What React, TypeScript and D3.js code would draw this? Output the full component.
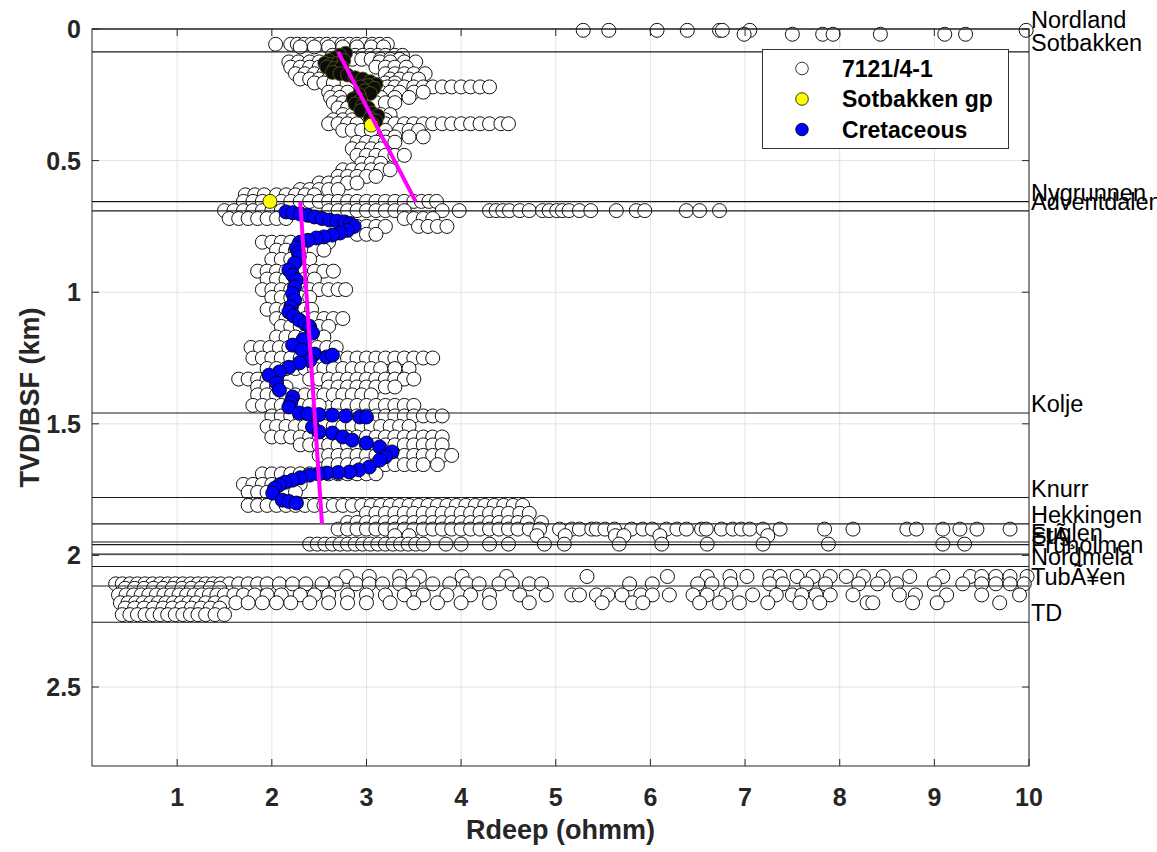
import React from 'react';
import * as d3 from 'd3';

const W = 1157;
const H = 852;
const PLOT = { left: 92, right: 1029, top: 29, bottom: 766 };
const FONT = 'Liberation Sans, Arial, Helvetica, sans-serif';

const xDomain = [0.1, 10];
const yDomain = [0, 2.8];
const xTicks = [1, 2, 3, 4, 5, 6, 7, 8, 9, 10];
const yTicks = [0, 0.5, 1, 1.5, 2, 2.5];
const yTickLabels = ['0', '0.5', '1', '1.5', '2', '2.5'];

const formationNames = ['Nordland', 'Sotbakken', 'Nygrunnen', 'Adventdalen', 'Kolje', 'Knurr', 'Hekkingen', 'Fuglen', 'StÃ¸', 'Fruholmen', 'Nordmela', 'TubÃ¥en', 'TD'];
const formationDepths = [0, 0.087, 0.656, 0.691, 1.459, 1.78, 1.88, 1.949, 1.959, 1.995, 2.042, 2.116, 2.254];

const trendTopDepth = [0.087, 0.656];
const trendBaseDepth = [0.656, 1.88];
const trendTopR = [2.7, 2.3];
const trendBaseR = [3.52, 2.53];

const legendLabels = ['7121/4-1', 'Sotbakken gp', 'Cretaceous'];

// well 7121/4-1: rows of [depth km, Rdeep values...]
const wellUpper: number[][] = [
  [0.005, 5.29, 5.56, 6.07, 6.39, 6.73, 6.76, 7.05, 9.97],
  [0.02, 6.99, 7.5, 7.82, 7.93, 8.43, 9.11, 9.33],
  [0.058, 2.04, 2.2, 2.27, 2.34, 2.42, 2.5, 2.58, 2.66, 2.74, 2.82, 2.9, 2.98, 3.06, 3.14, 3.22],
  [0.068, 2.3, 2.45, 2.6, 2.75, 2.9, 3.05, 3.18],
  [0.1, 2.64, 2.72, 2.8, 2.88, 2.96, 3.04, 3.12, 3.2, 3.3, 3.38],
  [0.115, 2.85, 2.95, 3.05, 3.15, 3.25, 3.35],
  [0.125, 2.18, 2.28, 2.4, 2.5, 3.14, 3.25, 3.4, 3.52],
  [0.145, 2.2, 2.3, 2.4, 2.5, 3.1, 3.2, 3.3, 3.42],
  [0.17, 2.25, 2.35, 2.45, 2.55, 3.2, 3.3, 3.4, 3.5, 3.62],
  [0.19, 2.3, 2.4, 2.5, 2.6, 3.25, 3.35, 3.45, 3.55],
  [0.205, 2.45, 2.55, 2.65, 3.2, 3.3],
  [0.22, 3.14, 3.22, 3.3, 3.4, 3.5, 3.6, 3.7, 3.8, 3.9, 4.0, 4.1, 4.2, 4.3],
  [0.24, 2.6, 2.7, 2.8, 3.15, 3.25, 3.35, 3.5, 3.6],
  [0.26, 2.62, 2.72, 3.15, 3.3, 3.45],
  [0.28, 2.65, 2.75, 2.85, 3.1, 3.2, 3.3],
  [0.3, 2.7, 2.8, 2.9, 3.0],
  [0.325, 2.75, 2.85, 3.15, 3.25],
  [0.345, 2.65, 2.75, 2.85, 3.2],
  [0.36, 2.6, 2.7, 2.8, 2.9, 3.1, 3.2, 3.3, 3.4, 3.5, 3.6, 3.7, 3.8, 3.9, 4.0, 4.1, 4.2, 4.3, 4.42, 4.5],
  [0.385, 2.75, 2.85, 2.95, 3.05, 3.2, 3.35, 3.45, 3.55],
  [0.41, 3.2, 3.3, 3.45, 3.6],
  [0.43, 2.9, 3.0, 3.1, 3.2, 3.3],
  [0.455, 2.85, 2.95, 3.05, 3.15],
  [0.48, 2.9, 3.0, 3.1, 3.2, 3.3, 3.4],
  [0.51, 2.95, 3.05, 3.15],
  [0.535, 2.75, 2.85, 2.95, 3.05, 3.15, 3.25],
  [0.56, 2.7, 2.8, 2.9, 3.0, 3.1],
  [0.585, 2.5, 2.6, 2.7, 2.8, 2.9],
  [0.61, 2.3, 2.4, 2.5, 2.6, 2.7],
  [0.63, 1.72, 1.82, 1.92, 2.05, 2.15, 2.25, 2.35, 2.45],
  [0.655, 1.7, 1.8, 1.9, 2.1, 2.2, 2.3, 2.4, 2.5, 2.6, 2.7, 2.8, 2.9, 3.0, 3.1, 3.2, 3.3, 3.4, 3.5, 3.58, 3.66, 3.74],
];

const wellMiddle: number[][] = [
  [0.69, 1.5, 1.6, 1.7, 1.8, 1.9, 2.0, 2.1, 2.6, 2.7, 2.8, 2.9, 3.0, 3.1, 3.2, 3.3, 3.4, 3.8, 3.98, 4.3, 4.37, 4.44, 4.51, 4.62, 4.72, 4.86, 4.93, 5.01, 5.07, 5.14, 5.25, 5.37, 5.64, 5.85, 5.94, 6.38, 6.52, 6.73],
  [0.72, 1.55, 1.65, 1.75, 1.85, 1.95, 2.05, 2.15, 3.4, 3.5, 3.6, 3.7],
  [0.75, 2.8, 2.9, 3.0, 3.1, 3.2, 3.55, 3.65, 3.75, 3.85],
  [0.78, 2.9, 3.0, 3.1],
  [0.81, 1.9, 2.0, 2.1, 2.2, 2.3, 2.4, 2.5, 2.6],
  [0.84, 2.05, 2.15, 2.25, 2.35, 2.45, 2.55],
  [0.875, 2.0, 2.1, 2.2, 2.3, 2.4],
  [0.92, 1.85, 1.95, 2.05, 2.15, 2.25, 2.35, 2.45, 2.55, 2.65],
  [0.95, 1.95, 2.05, 2.15, 2.25, 2.35, 2.45],
  [0.99, 1.9, 2.0, 2.1, 2.2, 2.3, 2.4, 2.5, 2.6, 2.7, 2.78],
  [1.02, 2.0, 2.1, 2.2, 2.3, 2.4],
  [1.065, 1.95, 2.05, 2.15, 2.25, 2.35, 2.42],
  [1.1, 2.05, 2.15, 2.25, 2.35, 2.45, 2.55, 2.65, 2.75],
  [1.13, 2.1, 2.2, 2.3, 2.4, 2.5, 2.6],
  [1.17, 2.05, 2.15, 2.25, 2.35, 2.45, 2.55],
  [1.21, 1.78, 1.88, 1.98, 2.08, 2.18, 2.28, 2.38, 2.48, 2.58, 2.68],
  [1.25, 1.8, 1.9, 2.0, 2.1, 2.2, 2.3, 2.4, 2.6, 2.7, 2.8, 2.9, 3.0, 3.1, 3.2, 3.3, 3.4, 3.5, 3.6, 3.7],
  [1.29, 1.95, 2.05, 2.15, 2.25, 2.35, 2.45, 2.55, 2.65, 2.75, 2.85, 2.95, 3.05, 3.15, 3.3, 3.45],
  [1.33, 1.65, 1.75, 1.85, 1.95, 2.05, 2.4, 2.5, 2.6, 2.7, 2.8, 2.9, 3.0, 3.1, 3.2, 3.3, 3.4, 3.5],
  [1.36, 1.85, 1.95, 2.05, 2.15, 2.6, 2.7, 2.8, 2.9, 3.0, 3.1, 3.2, 3.3],
  [1.39, 1.85, 1.95, 2.05, 2.15, 2.25, 2.35, 2.45, 2.55, 2.65, 2.75, 2.85, 2.95, 3.05],
  [1.43, 1.8, 1.9, 2.0, 2.1, 2.2, 2.3, 2.4, 2.5, 2.7, 2.8, 2.9, 3.0, 3.1, 3.2, 3.3, 3.4, 3.5],
  [1.47, 2.0, 2.1, 2.2, 2.3, 2.4, 2.5, 2.6, 2.7, 2.8, 2.9, 3.0, 3.1, 3.2, 3.3, 3.4, 3.5, 3.6, 3.7, 3.8],
  [1.51, 1.95, 2.05, 2.15, 2.25, 2.35, 2.45, 2.55, 2.65, 2.75, 2.85, 2.95, 3.05, 3.15, 3.25, 3.35, 3.45],
  [1.55, 2.0, 2.1, 2.2, 2.3, 2.4, 2.5, 2.6, 2.7, 2.8, 2.9, 3.0, 3.1, 3.2, 3.3, 3.4, 3.5, 3.6, 3.7, 3.8],
  [1.58, 2.3, 2.4, 2.5, 2.6, 2.7, 2.8, 2.9, 3.0, 3.1, 3.2, 3.3, 3.4, 3.5, 3.6, 3.7, 3.8],
  [1.62, 2.5, 2.6, 2.7, 2.8, 2.9, 3.0, 3.1, 3.2, 3.3, 3.4, 3.5, 3.6, 3.7, 3.8, 3.9],
  [1.655, 2.6, 2.7, 2.8, 2.9, 3.0, 3.1, 3.2, 3.3, 3.4, 3.5, 3.6, 3.75],
  [1.69, 1.9, 2.0, 2.1, 2.2, 2.3, 2.4, 2.5, 2.6, 2.7, 2.8, 2.9, 3.0, 3.1],
  [1.73, 1.7, 1.8, 1.9, 2.0, 2.1, 2.2, 2.3],
  [1.76, 1.75, 1.85, 1.95, 2.05, 2.15, 2.25],
];

const wellLower: number[][] = [
  [1.81, 1.75, 1.85, 1.95, 2.05, 2.15, 2.25, 2.35, 2.45, 2.55, 2.65, 2.75, 2.85, 2.95, 3.05, 3.15, 3.25, 3.35, 3.45, 3.55, 3.65, 3.75, 3.85, 3.95, 4.05, 4.15, 4.25, 4.35, 4.45, 4.55, 4.65],
  [1.84, 3.0, 3.1, 3.2, 3.3, 3.4, 3.5, 3.6, 3.7, 3.8, 3.9, 4.0, 4.1, 4.2, 4.3, 4.4, 4.5, 4.62, 4.72],
  [1.875, 2.8, 2.9, 3.0, 3.1, 3.2, 3.3, 3.4, 3.5, 3.6, 3.7, 3.8, 3.9, 4.0, 4.1, 4.2, 4.3, 4.4, 4.5, 4.6, 4.7, 4.85],
  [1.9, 2.7, 2.8, 2.9, 3.0, 3.1, 3.2, 3.3, 3.4, 3.5, 3.6, 3.7, 3.8, 3.9, 4.0, 4.1, 4.2, 4.3, 4.4, 4.5, 4.6, 4.72, 4.83, 5.04, 5.17, 5.25, 5.38, 5.43, 5.52, 5.62, 5.8, 5.92, 6.02, 6.17, 6.28, 6.38, 6.54, 6.59, 6.75, 6.87, 6.96, 7.05, 7.19, 7.37, 7.84, 8.14, 8.71, 8.81, 9.09, 9.27, 9.45, 9.8],
  [1.925, 3.3, 3.45, 4.8, 5.1, 5.63, 5.72, 6.1, 7.24],
  [1.957, 2.4, 2.48, 2.56, 2.64, 2.72, 2.8, 2.88, 2.96, 3.04, 3.12, 3.2, 3.28, 3.36, 3.44, 3.52, 3.6, 3.84, 4.0, 4.3, 4.5, 4.88, 5.09, 5.67, 6.12, 6.6, 7.19, 7.88, 9.09, 9.32],
  [2.08, 2.79, 3.03, 3.35, 3.56, 4.01, 4.48, 5.33, 6.18, 6.6, 6.84, 7.02, 7.26, 7.37, 7.55, 7.72, 7.9, 8.07, 8.25, 8.46, 8.74, 9.09, 9.38, 9.5, 9.65, 9.8, 9.98],
  [2.108, 0.35, 0.42, 0.5, 0.58, 0.66, 0.74, 0.82, 0.9, 0.98, 1.06, 1.14, 1.22, 1.3, 1.38, 1.46, 1.55, 1.65, 1.75, 1.85, 1.95, 2.08, 2.22, 2.36, 2.53, 2.68, 2.89, 3.03, 3.17, 3.35, 3.49, 3.7, 3.88, 4.06, 4.19, 4.4, 4.54, 4.72, 4.85, 5.78, 6.02, 6.5, 6.65, 6.85, 7.26, 7.4, 7.65, 7.85, 8.2, 8.4, 8.6, 9.0, 9.3, 9.5, 9.65, 9.8, 9.95],
  [2.125, 0.45, 0.55, 0.65, 0.75, 0.85, 0.95, 1.05, 1.15, 1.25, 1.35, 1.45],
  [2.15, 0.38, 0.46, 0.54, 0.62, 0.7, 0.78, 0.86, 0.94, 1.02, 1.1, 1.18, 1.26, 1.34, 1.42, 1.5, 1.6, 1.7, 1.82, 1.95, 2.1, 2.3, 2.45, 2.6, 2.8, 3.0, 3.2, 3.4, 3.6, 3.85, 4.1, 4.3, 4.62, 4.9, 5.17, 5.25, 5.43, 5.55, 5.7, 5.9, 6.02, 6.2, 6.45, 6.6, 6.8, 7.08, 7.33, 7.5, 7.6, 7.75, 7.9, 8.14, 8.63, 8.8, 9.13, 9.5, 9.9],
  [2.18, 0.4, 0.48, 0.56, 0.64, 0.72, 0.8, 0.88, 0.96, 1.04, 1.12, 1.2, 1.3, 1.4, 1.5, 1.62, 1.75, 1.9, 2.05, 2.2, 2.4, 2.6, 2.8, 3.0, 3.25, 3.5, 3.75, 4.0, 4.3, 4.72, 5.49, 5.81, 5.92, 6.52, 6.73, 6.94, 7.24, 7.58, 7.79, 8.29, 8.35, 8.77, 9.03, 9.69],
  [2.2, 0.45, 0.55, 0.65, 0.75, 0.85, 0.95, 1.05, 1.15, 1.25, 1.35, 1.45],
  [2.225, 0.42, 0.5, 0.58, 0.66, 0.74, 0.82, 0.9, 0.98, 1.06, 1.14, 1.22, 1.3, 1.4, 1.5],
];

// Sotbakken gp: [Rdeep, depth]; densely overplotted ones appear dark
const sotbakkenPts: number[][] = [
  [2.78, 0.092], [2.72, 0.1], [2.66, 0.11], [2.6, 0.12], [2.56, 0.13], [2.62, 0.135], [2.7, 0.13],
  [2.76, 0.12], [2.58, 0.145], [2.66, 0.15], [2.74, 0.145], [2.64, 0.165], [2.72, 0.17], [2.8, 0.175],
  [2.88, 0.185], [2.96, 0.19], [3.04, 0.2], [3.1, 0.21], [3.02, 0.215], [2.94, 0.22], [3.08, 0.225],
  [2.98, 0.235], [3.04, 0.245], [2.92, 0.25], [2.86, 0.265], [2.94, 0.27], [2.88, 0.285], [2.96, 0.29],
  [3.02, 0.3], [2.94, 0.31], [3.06, 0.32], [3.12, 0.33], [3.04, 0.34], [3.1, 0.35], [3.06, 0.36],
];
const sotbakkenTop: number[][] = [[3.05, 0.365], [1.98, 0.655]];

// Cretaceous: [Rdeep, depth]
const cretaceousPts: number[][] = [
  [2.15, 0.695], [2.22, 0.698], [2.3, 0.703], [2.38, 0.708], [2.45, 0.714], [2.53, 0.72], [2.61, 0.726],
  [2.69, 0.73], [2.77, 0.733], [2.83, 0.74], [2.87, 0.75], [2.8, 0.765], [2.72, 0.775], [2.64, 0.783],
  [2.55, 0.79], [2.47, 0.794], [2.38, 0.803], [2.29, 0.813], [2.26, 0.832], [2.28, 0.85], [2.29, 0.866],
  [2.24, 0.89], [2.18, 0.916], [2.22, 0.935], [2.26, 0.954], [2.24, 0.98], [2.22, 1.005], [2.24, 1.03],
  [2.2, 1.055], [2.18, 1.075], [2.23, 1.09], [2.29, 1.106], [2.35, 1.12], [2.4, 1.132], [2.43, 1.155],
  [2.33, 1.18], [2.22, 1.201], [2.32, 1.22], [2.45, 1.235], [2.58, 1.246], [2.64, 1.239], [2.4, 1.26],
  [2.29, 1.269], [2.18, 1.285], [2.08, 1.303], [1.97, 1.315], [2.05, 1.345], [2.08, 1.372], [2.22, 1.398],
  [2.2, 1.42], [2.18, 1.436], [2.29, 1.459], [2.38, 1.462], [2.5, 1.465], [2.64, 1.467], [2.78, 1.47],
  [2.93, 1.474], [3.0, 1.474], [2.43, 1.512], [2.5, 1.531], [2.64, 1.535], [2.75, 1.55], [2.85, 1.562],
  [3.0, 1.573], [3.14, 1.588], [3.27, 1.607], [3.2, 1.625], [3.14, 1.638], [3.03, 1.664], [2.92, 1.675],
  [2.82, 1.683], [2.7, 1.685], [2.58, 1.687], [2.49, 1.69], [2.4, 1.695], [2.3, 1.705], [2.22, 1.714],
  [2.14, 1.722], [2.08, 1.732], [2.03, 1.745], [2.01, 1.763], [2.11, 1.79], [2.18, 1.795], [2.26, 1.801],
];

export default function App() {
  const x = d3.scaleLinear().domain(xDomain).range([PLOT.left, PLOT.right]);
  const y = d3.scaleLinear().domain(yDomain).range([PLOT.top, PLOT.bottom]);
  const R = 7;
  const axisColor = '#262626';
  const tickLen = 7;

  const wellPts: [number, number][] = [];
  [...wellUpper, ...wellMiddle, ...wellLower].forEach((row) => {
    const d = row[0];
    row.slice(1).forEach((v) => wellPts.push([v, d]));
  });

  const trendLine = d3.line<[number, number]>().x((p) => x(p[0])).y((p) => y(p[1]));

  return (
    <svg width={W} height={H} style={{ position: 'absolute', left: 0, top: 0, background: '#fff' }} fontFamily={FONT}>
      <rect x={0} y={0} width={W} height={H} fill="#fff" />
      {xTicks.map((t) => (
        <line key={'gx' + t} x1={x(t)} x2={x(t)} y1={PLOT.top} y2={PLOT.bottom} stroke="#e3e3e3" strokeWidth={1} />
      ))}
      {yTicks.map((t) => (
        <line key={'gy' + t} x1={PLOT.left} x2={PLOT.right} y1={y(t)} y2={y(t)} stroke="#e3e3e3" strokeWidth={1} />
      ))}
      {wellPts.map((p, i) => (
        <circle key={'w' + i} cx={x(p[0])} cy={y(p[1])} r={R} fill="#fff" stroke="#111" strokeWidth={1} />
      ))}
      {formationDepths.map((d, i) => (
        <line key={'f' + i} x1={PLOT.left} x2={PLOT.right} y1={y(d)} y2={y(d)} stroke="#1a1a1a" strokeWidth={1.1} />
      ))}
      {sotbakkenPts.map((p, i) => (
        <circle key={'s' + i} cx={x(p[0])} cy={y(p[1])} r={R} fill="#0d0d0d" stroke="#5c5c14" strokeWidth={0.8} />
      ))}
      {sotbakkenTop.map((p, i) => (
        <circle key={'st' + i} cx={x(p[0])} cy={y(p[1])} r={R} fill="#ffff00" stroke="#000" strokeWidth={0.8} />
      ))}
      {cretaceousPts.map((p, i) => (
        <circle key={'c' + i} cx={x(p[0])} cy={y(p[1])} r={R} fill="#0000ff" stroke="#000" strokeWidth={0.9} />
      ))}
      {trendTopDepth.map((d, i) => (
        <path
          key={'t' + i}
          d={trendLine([[trendTopR[i], d], [trendBaseR[i], trendBaseDepth[i]]]) || ''}
          stroke="#ff00ff"
          strokeWidth={4}
          fill="none"
        />
      ))}
      <rect x={PLOT.left} y={PLOT.top} width={PLOT.right - PLOT.left} height={PLOT.bottom - PLOT.top} fill="none" stroke={axisColor} strokeWidth={1} />
      {xTicks.map((t) => (
        <g key={'xt' + t}>
          <line x1={x(t)} x2={x(t)} y1={PLOT.bottom} y2={PLOT.bottom - tickLen} stroke={axisColor} />
          <line x1={x(t)} x2={x(t)} y1={PLOT.top} y2={PLOT.top + tickLen} stroke={axisColor} />
          <text x={x(t)} y={806} textAnchor="middle" fontSize={25} fontWeight="bold" fill={axisColor}>{t}</text>
        </g>
      ))}
      {yTicks.map((t, i) => (
        <g key={'yt' + t}>
          <line x1={PLOT.left} x2={PLOT.left + tickLen} y1={y(t)} y2={y(t)} stroke={axisColor} />
          <line x1={PLOT.right} x2={PLOT.right - tickLen} y1={y(t)} y2={y(t)} stroke={axisColor} />
          <text x={81} y={y(t) + 9} textAnchor="end" fontSize={25} fontWeight="bold" fill={axisColor}>{yTickLabels[i]}</text>
        </g>
      ))}
      <text x={(PLOT.left + PLOT.right) / 2} y={839} textAnchor="middle" fontSize={27} fontWeight="bold" fill={axisColor}>Rdeep (ohmm)</text>
      <text transform={`translate(39, ${(PLOT.top + PLOT.bottom) / 2}) rotate(-90)`} textAnchor="middle" fontSize={27} fontWeight="bold" fill={axisColor}>TVD/BSF (km)</text>
      {formationNames.map((n, i) => (
        <text key={'fl' + i} x={1031} y={y(formationDepths[i]) - 1} fontSize={23.5} fill="#000">{n}</text>
      ))}
      <g>
        <rect x={762.5} y={49.5} width={246} height={99} fill="#fff" stroke="#333" strokeWidth={1} />
        {legendLabels.map((l, i) => (
          <g key={'lg' + i}>
            <circle cx={802} cy={68.5 + i * 30.5} r={6.3} fill={i === 0 ? '#fff' : i === 1 ? '#ffff00' : '#0000ff'} stroke="#000" strokeWidth={0.8} />
            <text x={842} y={68.5 + i * 30.5 + 8} fontSize={23} fontWeight="bold" fill="#000">{l}</text>
          </g>
        ))}
      </g>
    </svg>
  );
}
